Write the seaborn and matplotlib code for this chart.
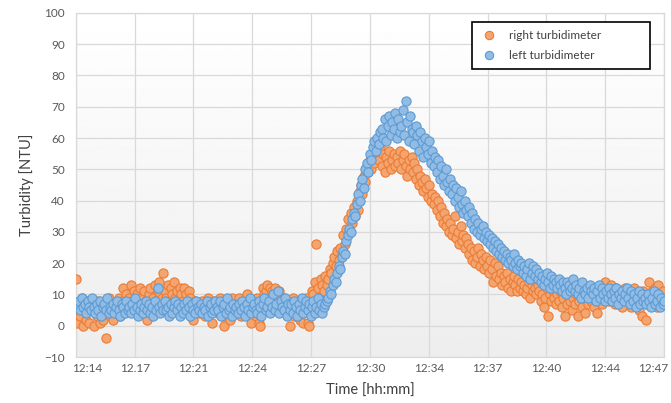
import numpy as np
import pandas as pd
import seaborn as sns
import matplotlib.pyplot as plt
from matplotlib.lines import Line2D
from matplotlib.transforms import ScaledTranslation

sns.set_theme(style="whitegrid")
plt.rcParams['font.family'] = ['Lato', 'DejaVu Sans']

# one reading every 5 s, starting 12:14 (values in NTU), one row per minute
step_min = 5 / 60
tick_labels = ["12:14", "12.17", "12:21", "12:24", "12:27", "12:30",
               "12:34", "12:37", "12:40", "12:44", "12:47"]

right_turb = [
    15, 1, 7, 3, 9, 0, 6, 2, 8, 1, 5, 7,
    0, 6, 3, 8, 1, 5, 2, 7, -4, 4, 9, 3,
    5, 2, 7, 4, 6, 9, 3, 8, 12, 7, 10, 6,
    9, 13, 8, 11, 6, 10, 7, 12, 9, 4, 11, 8,
    2, 10, 12, 7, 9, 13, 8, 11, 14, 10, 9, 17,
    11, 9, 13, 8, 12, 10, 14, 9, 11, 7, 12, 10,
    8, 12, 10, 7, 11, 9, 6, 2, 8, 5, 7, 4,
    6, 8, 5, 3, 7, 9, 4, 6, 1, 8, 5, 7,
    4, 9, 6, 3, 0, 8, 5, 7, 2, 9, 6, 4,
    7, 5, 9, 3, 6, 8, 4, 10, 7, 5, 1, 8,
    6, 3, 9, 1, 0, 5, 12, 10, 11, 13, 9, 12,
    11, 10, 12, 8, 9, 11, 7, 5, 9, 6, 8, 4,
    0, 6, 9, 3, 7, 5, 8, 2, 4, 1, 6, 9,
    1, 0, 8, 11, 10, 14, 26, 12, 9, 15, 13, 11,
    16, 13, 15, 18, 17, 20, 22, 19, 24, 21, 25, 23,
    29, 26, 31, 34, 30, 36, 33, 38, 35, 40, 37, 43,
    45, 42, 48, 46, 51, 49, 53, 50, 55, 52, 54, 56,
    53, 57, 51, 55, 49, 54, 52, 56, 50, 53, 55, 51,
    54, 52, 56, 50, 53, 55, 51, 48, 53, 50, 54, 49,
    52, 47, 50, 45, 48, 46, 43, 47, 44, 41, 45, 40,
    42, 39, 41, 37, 40, 35, 38, 33, 36, 32, 34, 30,
    33, 29, 31, 35, 28, 30, 26, 32, 27, 29, 25, 28,
    26, 23, 25, 21, 24, 20, 22, 25, 19, 23, 21, 18,
    22, 19, 17, 21, 18, 14, 20, 16, 19, 15, 17, 13,
    16, 14, 17, 12, 15, 11, 14, 16, 13, 11, 15, 12,
    14, 11, 13, 10, 12, 14, 9, 13, 11, 12, 10, 13,
    11, 8, 10, 6, 9, 12, 3, 10, 8, 11, 9, 7,
    10, 8, 11, 6, 9, 3, 10, 7, 12, 8, 5, 9,
    7, 10, 3, 8, 11, 6, 9, 4, 10, 7, 12, 8,
    9, 6, 11, 4, 8, 12, 7, 10, 14, 9, 11, 8,
    13, 9, 11, 7, 12, 10, 8, 11, 6, 9, 12, 10,
    8, 11, 6, 9, 12, 7, 10, 5, 9, 3, 11, 8,
    2, 10, 14, 7, 11, 9, 12, 6, 13, 8, 10, 11,
    9,
]

left_turb = [
    7, 6, 8, 5, 9, 6, 7, 4, 8, 6, 5, 9,
    6, 4, 7, 5, 8, 3, 6, 7, 5, 9, 4, 6,
    5, 7, 4, 6, 8, 5, 3, 7, 6, 4, 8, 5,
    6, 4, 7, 5, 9, 6, 3, 5, 7, 4, 6, 8,
    5, 7, 4, 6, 3, 8, 5, 12, 6, 4, 7, 5,
    8, 5, 6, 3, 7, 4, 6, 8, 5, 7, 3, 6,
    4, 7, 5, 8, 6, 3, 7, 5, 4, 8, 6, 5,
    7, 4, 6, 5, 8, 3, 6, 7, 4, 5, 8, 6,
    5, 8, 3, 6, 7, 4, 9, 5, 6, 3, 7, 5,
    6, 4, 7, 5, 8, 6, 3, 7, 5, 9, 4, 6,
    7, 5, 4, 8, 6, 3, 7, 9, 5, 6, 8, 4,
    6, 10, 5, 7, 11, 4, 8, 6, 5, 9, 3, 7,
    5, 7, 4, 8, 6, 3, 7, 5, 9, 4, 6, 8,
    5, 7, 3, 6, 8, 4, 6, 9, 5, 7, 4, 6,
    7, 8, 9, 11, 10, 13, 15, 14, 17, 19, 18, 22,
    24, 23, 27, 29, 31, 30, 34, 36, 35, 39, 42, 40,
    45, 47, 44, 50, 52, 49, 55, 53, 57, 59, 56, 60,
    58, 62, 63, 60, 66, 59, 64, 67, 61, 65, 63, 68,
    60, 66, 62, 64, 69, 61, 72, 65, 59, 67, 63, 62,
    58, 64, 61, 56, 62, 59, 54, 60, 57, 55, 59, 52,
    56, 51, 54, 49, 53, 47, 51, 48, 45, 50, 46, 43,
    47, 42, 45, 40, 44, 41, 38, 43, 39, 36, 40, 37,
    35, 38, 33, 36, 31, 34, 30, 33, 29, 31, 32, 28,
    30, 27, 29, 26, 28, 25, 27, 24, 26, 23, 25, 22,
    24, 21, 23, 20, 22, 21, 19, 23, 20, 18, 21, 19,
    20, 17, 19, 16, 18, 20, 15, 17, 19, 16, 18, 15,
    17, 14, 16, 13, 15, 17, 14, 12, 16, 13, 15, 14,
    12, 15, 13, 11, 14, 12, 10, 14, 13, 11, 12, 15,
    11, 13, 10, 12, 9, 14, 11, 10, 12, 9, 13, 11,
    10, 12, 8, 11, 13, 9, 12, 10, 8, 11, 9, 12,
    10, 8, 11, 9, 12, 7, 10, 9, 11, 8, 10, 12,
    9, 7, 11, 8, 10, 6, 9, 11, 7, 10, 8, 9,
    7, 10, 8, 6, 9, 11, 7, 8, 10, 6, 9, 7,
    8,
]

right_df = pd.DataFrame({"time": np.arange(len(right_turb)) * step_min, "turbidity": right_turb})
left_df = pd.DataFrame({"time": np.arange(len(left_turb)) * step_min, "turbidity": left_turb})

orange_fill, orange_edge = "#F4A46F", "#EB7C35"
blue_fill, blue_edge = "#93BCE5", "#5B9BD5"

fig, ax = plt.subplots(figsize=(6.71, 4.03), dpi=100)
fig.subplots_adjust(left=0.113, right=0.9896, top=0.968, bottom=0.114)

# light gradient in the plot area, like the Excel original
grad = np.linspace(1.0, 0.93, 256).reshape(-1, 1)
ax.imshow(grad, cmap="gray", vmin=0, vmax=1, extent=[0, 1, 0, 1],
          transform=ax.transAxes, aspect="auto", zorder=-2)

sns.scatterplot(data=right_df, x="time", y="turbidity", ax=ax, color=orange_fill,
                edgecolor=orange_edge, linewidth=0.8, s=44, zorder=3)
sns.scatterplot(data=left_df, x="time", y="turbidity", ax=ax, color=blue_fill,
                edgecolor=blue_edge, linewidth=0.8, s=44, zorder=4)

ax.set_xlim(0, 33)
ax.set_ylim(-10, 100)
ax.set_yticks(range(-10, 101, 10))
ax.set_xticks(np.linspace(0, 33, len(tick_labels)))
ax.set_xticklabels(tick_labels)
ax.set_axisbelow(True)
ax.grid(True, color="#d9d9d9", linewidth=0.9)
for sp in ax.spines.values():
    sp.set_color("#d9d9d9")
    sp.set_linewidth(0.9)

ax.tick_params(axis="both", length=0, labelsize=8.5, labelcolor="#595959")
ax.tick_params(axis="y", pad=8)
ax.tick_params(axis="x", pad=4)

# Excel nudges the edge labels inwards
xl = ax.get_xticklabels()
xl[0].set_transform(xl[0].get_transform() + ScaledTranslation(11 / 100, 0, fig.dpi_scale_trans))
xl[-1].set_transform(xl[-1].get_transform() + ScaledTranslation(-11 / 100, 0, fig.dpi_scale_trans))

ax.set_xlabel("Time [hh:mm]", fontsize=10.5, color="#404040", labelpad=7)
ax.set_ylabel("Turbidity [NTU]", fontsize=10.5, color="#404040", labelpad=7)

handles = [
    Line2D([], [], linestyle="none", marker="o", markersize=6,
           markerfacecolor=orange_fill, markeredgecolor=orange_edge, markeredgewidth=0.8),
    Line2D([], [], linestyle="none", marker="o", markersize=6,
           markerfacecolor=blue_fill, markeredgecolor=blue_edge, markeredgewidth=0.8),
]
leg = ax.legend(handles, ["right turbidimeter", "left turbidimeter"], loc="upper left",
                bbox_to_anchor=(0.673, 0.834, 0.303, 0.140), mode="expand",
                borderaxespad=0, fontsize=8.5,
                frameon=True, fancybox=False, framealpha=1, edgecolor="black",
                borderpad=0.7, labelspacing=0.75, handletextpad=0.9,
                handlelength=1.6)
leg.get_frame().set_linewidth(1.2)
for t in leg.get_texts():
    t.set_color("#404040")

plt.savefig("out.png", dpi=100)
